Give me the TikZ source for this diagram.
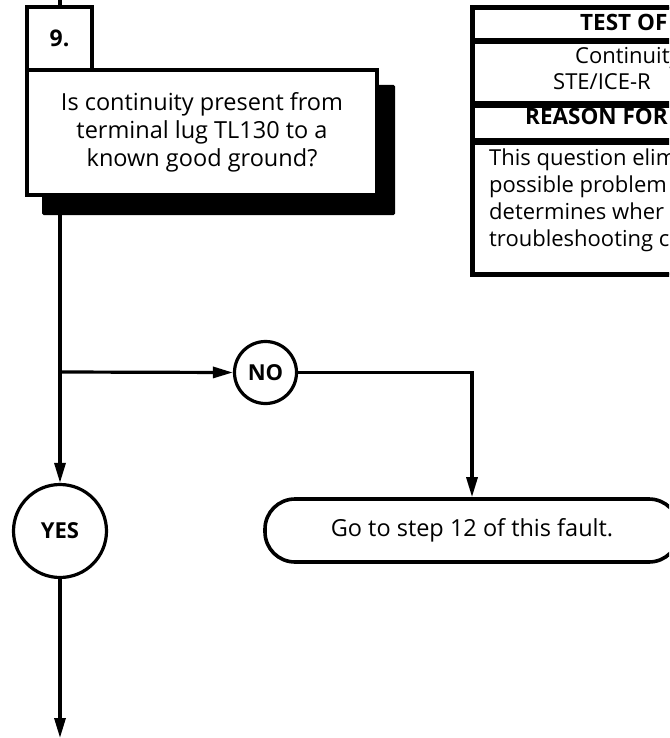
\documentclass[tikz,border=0pt]{standalone}
\usepackage{fontspec}
\setmainfont{Open Sans}
\usetikzlibrary{arrows.meta,positioning,calc}
\tikzset{
  numbox/.style ={rectangle, draw=black, line width=3.2pt, fill=white,
                  minimum width=65pt, minimum height=63pt, inner sep=0pt,
                  font=\fontsize{23}{24}\selectfont\bfseries},
  qbox/.style   ={rectangle, draw=black, line width=3.2pt, fill=white,
                  minimum width=350pt, minimum height=125pt, align=center,
                  font=\fontsize{23.5}{28}\selectfont},
  shadowbox/.style={rectangle, fill=black, rounded corners=1.5pt,
                  minimum width=353pt, minimum height=130pt, inner sep=0pt},
  answer/.style ={circle, draw=black, line width=3.2pt, fill=white, inner sep=0pt,
                  font=\fontsize{22}{24}\selectfont\bfseries},
  gobox/.style  ={rectangle, rounded corners=30pt, draw=black, line width=3.6pt,
                  minimum width=414pt, minimum height=63pt,
                  font=\fontsize{23.5}{28}\selectfont},
  cell/.style   ={rectangle, draw=black, line width=3.2pt, minimum width=300pt,
                  anchor=north west, inner sep=0pt},
  celltxt/.style={anchor=base west, inner sep=0pt, font=\fontsize{22}{26}\selectfont},
  cellhead/.style={celltxt, font=\fontsize{22.5}{24}\selectfont\bfseries},
  ar/.style     ={-{Triangle[length=20pt,width=11pt]}, line width=3.2pt, draw=black},
}
\begin{document}
\begin{tikzpicture}[x=1pt,y=-1pt]
\clip (0,0) rectangle (669,738);
\fill[white] (0,0) rectangle (669,738);

% step box
\node[shadowbox] (shd) at (218.5,150) {};
\node[qbox] (q) at (202,132.5) {Is continuity present from\\terminal lug TL130 to a\\known good ground?};
\node[numbox] (num) at (59.5,38.5) {9.};
\coordinate (top) at (60,0);
\coordinate (split) at (60,372);
\coordinate (bottom) at (60,738);

\node[answer, minimum size=62pt] (no) at (265.5,372.5) {NO};
\node[answer, minimum size=93pt] (yes) at (60,531) {YES};
\node[gobox] (go) at (472,530.5) {Go to step 12 of this fault.};

\draw[line width=3.2pt] (top) -- (top |- num.north);
\draw[ar] (shd.south -| split) -- (yes.north);
\draw[ar] (split) -- (no.west);
\draw[ar] (no.east) -| (go.north);
\draw[ar] (yes.south) -- (bottom);

% test table
\node[cell, minimum height=31pt] (t1) at (472,7) {};
\node[cell, minimum height=60pt] (t2) at (t1.south west) {};
\node[cell, minimum height=34pt] (t3) at (t2.south west) {};
\node[cell, minimum height=130pt] (t4) at (t3.south west) {};
\draw[line width=4pt] (t1.north west) rectangle (t4.south east);

\node[cellhead] (th1) at (580,31) {TEST OF};
\node[celltxt] (tc1) at (575,64) {Continuity};
\node[celltxt] (tc2) at (553,90) {STE/ICE-R};
\node[cellhead] (th2) at (525,125) {REASON FOR};
\node[celltxt] (tp1) at (489,165) {This question elim};
\node[celltxt] (tp2) at (489,192) {possible problem};
\node[celltxt] (tp3) at (489,219) {determines wher};
\node[celltxt] (tp4) at (489,246) {troubleshooting c};
\end{tikzpicture}
\end{document}
